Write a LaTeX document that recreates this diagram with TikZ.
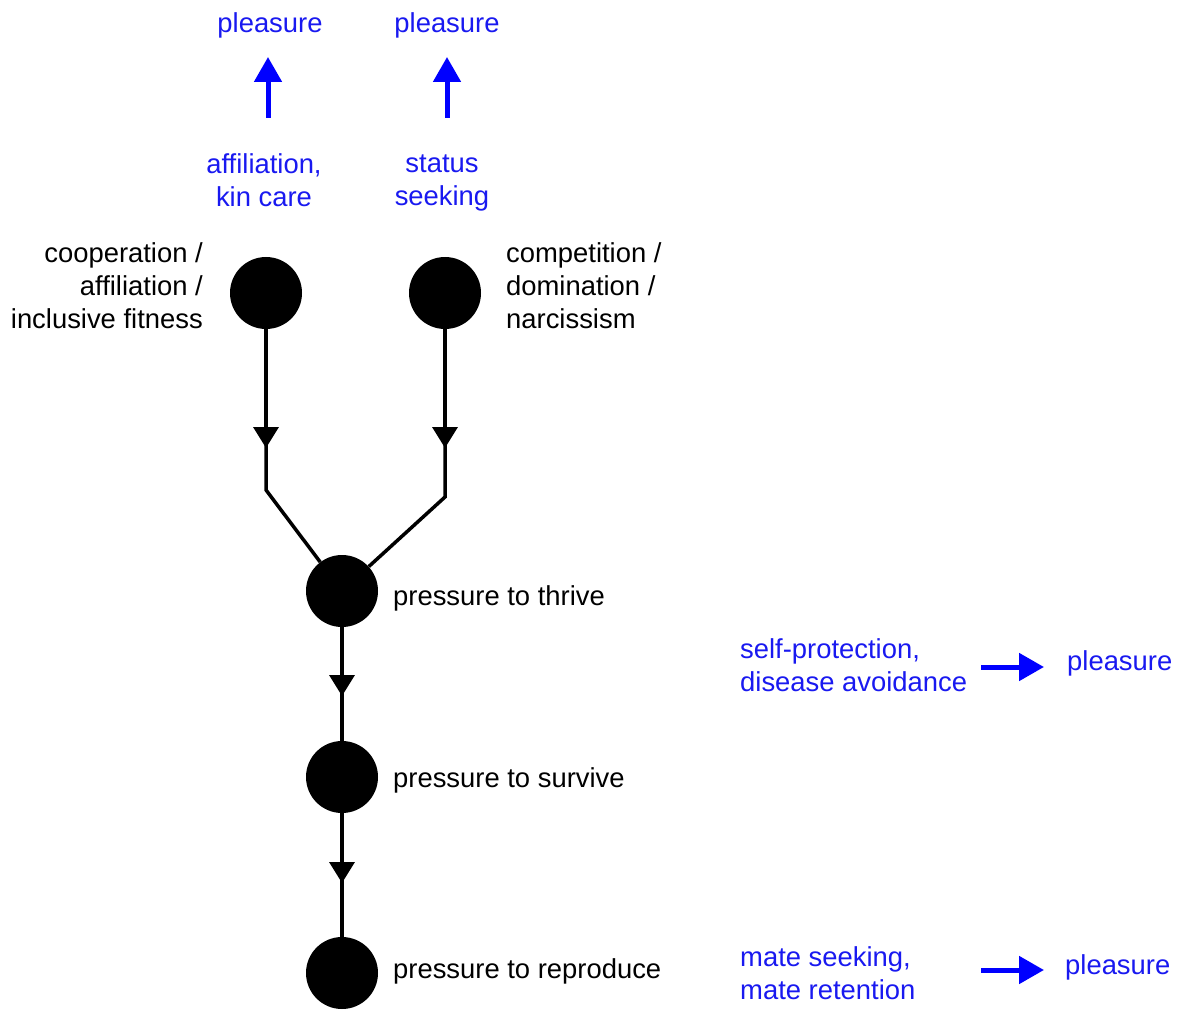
\documentclass[tikz,border=0pt]{standalone}
\usepackage{fontspec}
\setmainfont{Liberation Sans}
\usetikzlibrary{arrows.meta}
\definecolor{lblue}{RGB}{25,25,240}
\begin{document}
\begin{tikzpicture}[x=1pt,y=-1pt,
 dot/.style={circle,fill=black,minimum size=72pt,inner sep=0pt},
 lbl/.style={inner sep=0pt,font=\fontsize{27.4}{32.8}\selectfont},
 blbl/.style={lbl,text=lblue},
 flow/.style={line width=3.5pt,black},
 flowtip/.style={flow,-{Triangle[width=25pt,length=21pt]}},
 barrow/.style={line width=5pt,blue,-{Triangle[width=27pt,length=25pt]}}]
\useasboundingbox (0,0) rectangle (1181,1011);

% main circles
\node[dot] (coop) at (266,293) {};
\node[dot] (comp) at (445,293) {};
\node[dot] (thrive) at (342,591) {};
\node[dot] (survive) at (342,777) {};
\node[dot] (repro) at (342,973) {};

% bend points and arrow tips
\coordinate (ca) at (266,448);
\coordinate (cb) at (266,490);
\coordinate (da) at (445,448);
\coordinate (db) at (445,497);
\coordinate (ta) at (342,696);
\coordinate (sa) at (342,883);

\draw[flow] (coop) -- (cb) -- (thrive);
\draw[flowtip] (coop) -- (ca);
\draw[flow] (comp) -- (db) -- (thrive);
\draw[flowtip] (comp) -- (da);
\draw[flow] (thrive) -- (survive);
\draw[flowtip] (thrive) -- (ta);
\draw[flow] (survive) -- (repro);
\draw[flowtip] (survive) -- (sa);

% black labels
\node[lbl,anchor=east,align=right] (coopl) at (203,286) {cooperation /\\affiliation /\\inclusive fitness};
\node[lbl,anchor=west,align=left] (compl) at (506,286) {competition /\\domination /\\narcissism};
\node[lbl,anchor=west] (thrivel) at (393,598) {pressure to thrive};
\node[lbl,anchor=west] (survivel) at (393,780) {pressure to survive};
\node[lbl,anchor=west] (reprol) at (393,971) {pressure to reproduce};

% blue labels top
\node[blbl] (p1) at (270,25) {pleasure};
\node[blbl] (p2) at (447,25) {pleasure};
\node[blbl,align=center] (aff) at (264,180) {affiliation,\\kin care};
\node[blbl,align=center] (stat) at (442,183) {status\\seeking};
\coordinate (u1s) at (268,118);
\coordinate (u1e) at (268,57);
\coordinate (u2s) at (447,118);
\coordinate (u2e) at (447,57);
\draw[barrow] (u1s) -- (u1e);
\draw[barrow] (u2s) -- (u2e);

% blue labels right
\node[blbl,anchor=west,align=left] (selfp) at (740,665) {self-protection,\\disease avoidance};
\node[blbl,anchor=west] (p3) at (1067,663) {pleasure};
\node[blbl,anchor=west,align=left] (mate) at (740,973) {mate seeking,\\mate retention};
\node[blbl,anchor=west] (p4) at (1065,967) {pleasure};
\coordinate (r1s) at (981,667);
\coordinate (r1e) at (1044,667);
\coordinate (r2s) at (981,970);
\coordinate (r2e) at (1044,970);
\draw[barrow] (r1s) -- (r1e);
\draw[barrow] (r2s) -- (r2e);
\end{tikzpicture}
\end{document}
